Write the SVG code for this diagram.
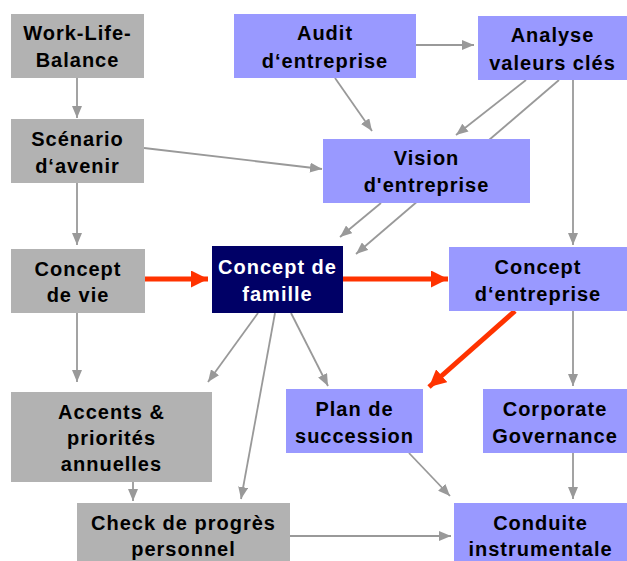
<svg xmlns="http://www.w3.org/2000/svg" width="627" height="561" viewBox="0 0 627 561">
<defs>
<style>
.g{fill:#B2B2B2}
.p{fill:#9999FF}
.n{fill:#000066}
text{font-family:"Liberation Sans",Arial,sans-serif;font-weight:bold;font-size:20px;letter-spacing:1px;text-anchor:middle;fill:#000}
.w{fill:#fff}
.c{stroke:#999999;stroke-width:1.8;fill:none;marker-end:url(#ag)}
.r{stroke:#FF3300;stroke-width:5;fill:none;marker-end:url(#ar)}
</style>
<marker id="ag" markerUnits="userSpaceOnUse" markerWidth="12" markerHeight="10" refX="12" refY="5" orient="auto" viewBox="0 0 12 10">
<path d="M0,0 L12,5 L0,10 z" fill="#999999"/>
</marker>
<marker id="ar" markerUnits="userSpaceOnUse" markerWidth="17" markerHeight="17" refX="17" refY="8.5" orient="auto" viewBox="0 0 17 17">
<path d="M0,0 L17,8.5 L0,17 z" fill="#FF3300"/>
</marker>
</defs>
<rect width="627" height="561" fill="#fff"/>
<g id="connectors">
<line class="c" x1="77" y1="78" x2="77" y2="118"/>
<line class="c" x1="144" y1="148" x2="322" y2="169"/>
<line class="c" x1="77" y1="183" x2="77" y2="245"/>
<line class="c" x1="335" y1="78" x2="372" y2="131"/>
<line class="c" x1="416" y1="45" x2="474" y2="45"/>
<line class="c" x1="526" y1="80" x2="456" y2="135"/>
<line class="c" x1="559" y1="80" x2="356" y2="254"/>
<line class="c" x1="381" y1="203" x2="340" y2="237"/>
<line class="c" x1="573" y1="80" x2="573" y2="245"/>
<line class="r" x1="145" y1="279" x2="208" y2="279"/>
<line class="r" x1="343" y1="279" x2="448" y2="279"/>
<line class="r" x1="515" y1="311" x2="429" y2="387"/>
<line class="c" x1="77" y1="313" x2="77" y2="382"/>
<line class="c" x1="258" y1="313" x2="208" y2="382"/>
<line class="c" x1="275" y1="313" x2="241" y2="499"/>
<line class="c" x1="291" y1="313" x2="328" y2="386"/>
<line class="c" x1="573" y1="311" x2="573" y2="386"/>
<line class="c" x1="133" y1="482" x2="133" y2="501"/>
<line class="c" x1="409" y1="453" x2="450" y2="496"/>
<line class="c" x1="573" y1="453" x2="573" y2="499"/>
<line class="c" x1="290" y1="536" x2="451" y2="536"/>
</g>
<g id="work-life-balance"><rect class="g" x="11" y="14" width="133" height="64"/><text x="77.5" y="39.5">Work-Life-</text><text x="77.5" y="67">Balance</text></g>
<g id="scenario-avenir"><rect class="g" x="11" y="119" width="133" height="64"/><text x="77.5" y="145.5">Scénario</text><text x="77.5" y="173">d‘avenir</text></g>
<g id="concept-vie"><rect class="g" x="11" y="249" width="134" height="64"/><text x="78" y="275.5">Concept</text><text x="78" y="302">de vie</text></g>
<g id="accents"><rect class="g" x="11" y="392" width="201" height="90"/><text x="111.5" y="418.5">Accents &amp;</text><text x="111.5" y="445">priorités</text><text x="111.5" y="471">annuelles</text></g>
<g id="check-progres"><rect class="g" x="77" y="503" width="213" height="64"/><text x="183.5" y="529.5">Check de progrès</text><text x="183.5" y="556">personnel</text></g>
<g id="audit"><rect class="p" x="234" y="14" width="182" height="64"/><text x="325" y="40">Audit</text><text x="325" y="67.5">d‘entreprise</text></g>
<g id="analyse"><rect class="p" x="478" y="16" width="149" height="64"/><text x="552.5" y="42">Analyse</text><text x="552.5" y="69.5">valeurs clés</text></g>
<g id="vision"><rect class="p" x="323" y="139" width="207" height="64"/><text x="426.5" y="165">Vision</text><text x="426.5" y="192">d'entreprise</text></g>
<g id="concept-famille"><rect class="n" x="212" y="246" width="131" height="67"/><text class="w" x="277.5" y="273.5">Concept de</text><text class="w" x="277.5" y="300.5">famille</text></g>
<g id="concept-entreprise"><rect class="p" x="449" y="247" width="178" height="64"/><text x="538" y="274">Concept</text><text x="538" y="300.5">d‘entreprise</text></g>
<g id="plan-succession"><rect class="p" x="286" y="389" width="137" height="64"/><text x="354.5" y="415.5">Plan de</text><text x="354.5" y="442.5">succession</text></g>
<g id="corporate-governance"><rect class="p" x="483" y="389" width="144" height="64"/><text x="555" y="415.5">Corporate</text><text x="555" y="442.5">Governance</text></g>
<g id="conduite"><rect class="p" x="454" y="503" width="173" height="64"/><text x="540.5" y="529.5">Conduite</text><text x="540.5" y="556">instrumentale</text></g>
</svg>
